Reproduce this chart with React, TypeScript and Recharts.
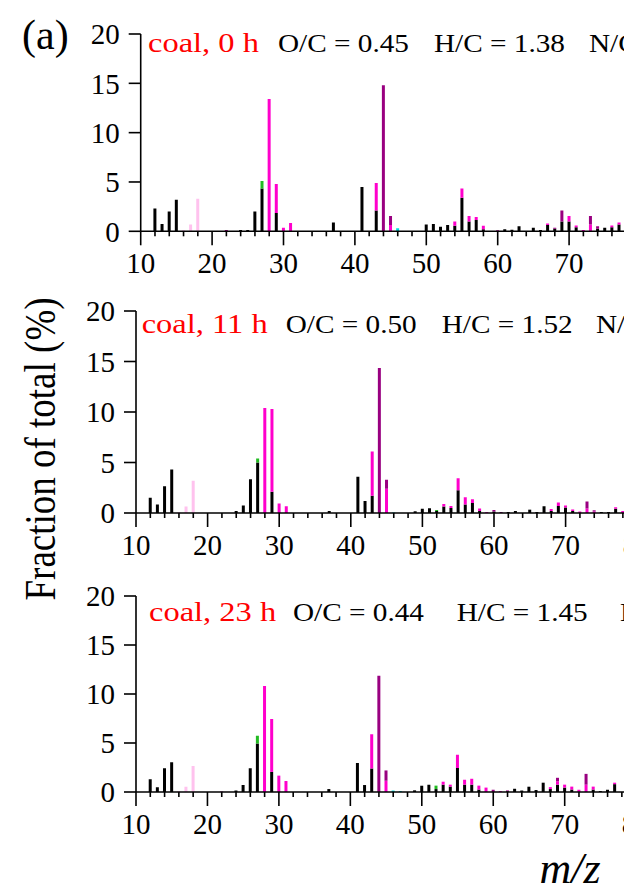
import { BarChart, Bar, XAxis, YAxis } from "recharts";

const serif = "'Liberation Serif', 'Times New Roman', serif";

// [m/z, fraction of total %] pairs
const black0 = [[12, 2.3], [13, 0.75], [14, 2.0], [15, 3.2], [24, 0.12], [25, 0.12], [26, 2.0], [27, 4.35], [29, 1.85], [37, 0.9], [41, 4.5], [43, 2.1], [50, 0.7], [51, 0.75], [52, 0.45], [53, 0.65], [54, 0.55], [55, 3.4], [56, 1.0], [57, 1.15], [58, 0.2], [61, 0.22], [62, 0.15], [63, 0.5], [65, 0.35], [66, 0.12], [67, 0.65], [68, 0.25], [69, 1.0], [70, 1.0], [71, 0.4], [74, 0.25], [75, 0.35], [76, 0.4], [77, 0.7]];
const green0 = [[27, 0.75]];
const magenta0 = [[28, 13.4], [29, 2.95], [30, 0.35], [31, 0.85], [43, 2.8], [45, 0.65], [54, 0.45], [55, 0.95], [56, 0.55], [57, 0.3], [58, 0.35], [67, 0.15], [70, 0.55], [71, 0.2], [72, 0.12], [73, 0.7], [76, 0.2], [77, 0.2]];
const purple0 = [[22, 0.12], [44, 14.8], [45, 0.9], [60, 0.1], [68, 0.1], [69, 1.1], [73, 0.85], [74, 0.25]];
const pink0 = [[16, 0.1], [17, 0.7], [18, 3.3]];
const cyan0 = [[46, 0.3]];

const black11 = [[12, 1.5], [13, 0.85], [14, 2.65], [15, 4.3], [24, 0.2], [25, 0.75], [26, 3.35], [27, 5.0], [29, 2.1], [37, 0.2], [41, 3.6], [42, 1.2], [43, 1.7], [49, 0.17], [50, 0.43], [51, 0.46], [52, 0.2], [53, 0.65], [54, 0.5], [55, 2.25], [56, 0.85], [57, 1.0], [58, 0.2], [60, 0.15], [62, 0.1], [63, 0.2], [65, 0.33], [66, 0.1], [67, 0.66], [68, 0.2], [69, 0.7], [70, 0.55], [71, 0.2], [75, 0.1], [76, 0.1], [77, 0.43]];
const green11 = [[27, 0.4], [52, 0.1]];
const magenta11 = [[28, 10.4], [29, 8.2], [30, 0.93], [31, 0.66], [43, 4.4], [45, 2.4], [53, 0.25], [54, 0.2], [55, 1.2], [56, 0.7], [57, 0.35], [58, 0.25], [59, 0.1], [68, 0.2], [69, 0.35], [70, 0.2], [71, 0.15], [72, 0.15], [73, 0.45], [74, 0.15], [77, 0.13], [78, 0.2]];
const purple11 = [[44, 14.35], [45, 0.9], [60, 0.15], [61, 0.1], [73, 0.7], [74, 0.12]];
const pink11 = [[16, 0.1], [17, 0.65], [18, 3.2]];
const cyan11 = [[46, 0.05]];

const black23 = [[12, 1.3], [13, 0.48], [14, 2.42], [15, 3.03], [24, 0.15], [25, 0.71], [26, 2.42], [27, 4.95], [29, 2.05], [37, 0.3], [41, 2.96], [42, 0.71], [43, 2.4], [49, 0.17], [50, 0.64], [51, 0.74], [52, 0.3], [53, 0.75], [54, 0.55], [55, 2.45], [56, 0.75], [57, 0.75], [58, 0.25], [62, 0.08], [63, 0.33], [64, 0.15], [65, 0.54], [66, 0.2], [67, 0.95], [68, 0.3], [69, 0.75], [70, 0.45], [71, 0.25], [74, 0.25], [75, 0.1], [76, 0.23], [77, 0.8]];
const green23 = [[27, 0.8], [52, 0.35]];
const magenta23 = [[28, 10.82], [29, 5.4], [30, 1.67], [31, 1.12], [43, 3.5], [45, 1.15], [53, 0.3], [54, 0.2], [55, 1.35], [56, 0.5], [57, 0.6], [58, 0.4], [59, 0.45], [61, 0.1], [68, 0.2], [69, 0.35], [70, 0.3], [71, 0.3], [72, 0.23], [73, 0.75], [74, 0.3], [77, 0.15]];
const purple23 = [[22, 0.05], [44, 11.87], [45, 1.05], [60, 0.23], [62, 0.08], [69, 0.35], [73, 1.1]];
const pink23 = [[16, 0.1], [17, 0.54], [18, 2.65]];
const cyan23 = [[46, 0.15], [47, 0.1]];

const yTicks = [0, 5, 10, 15, 20];
const xTicks = [10, 12, 14, 16, 18, 20, 22, 24, 26, 28, 30, 32, 34, 36, 38, 40, 42, 44, 46, 48, 50, 52, 54, 56, 58, 60, 62, 64, 66, 68, 70, 72, 74, 76, 78, 80, 82, 84, 86, 88, 90];

const samples = ["coal, 0 h", "coal, 11 h", "coal, 23 h"];
const ocRatios = ["0.45", "0.50", "0.44"];
const hcRatios = ["1.38", "1.52", "1.45"];

const seriesKeys = ["black", "green", "magenta", "purple", "pink", "cyan"];
const seriesColors = ["#000000", "#22bb22", "#ff00cc", "#990080", "#ffc2ee", "#00e0e0"];

function buildRows(series: number[][][]) {
  const all = new Set<number>();
  series.forEach((s) => s.forEach(([m]) => all.add(m)));
  return [...all].sort((a, b) => a - b).map((m) => {
    const row: any = { mz: m };
    series.forEach((s, i) => {
      const hit = s.find(([k]) => k === m);
      row[seriesKeys[i]] = hit ? hit[1] : 0;
    });
    return row;
  });
}

const panelData = [
  buildRows([black0, green0, magenta0, purple0, pink0, cyan0]),
  buildRows([black11, green11, magenta11, purple11, pink11, cyan11]),
  buildRows([black23, green23, magenta23, purple23, pink23, cyan23]),
];

// plot box per panel: left edge (m/z 10), px per unit, y of 20 and of 0
const layout = [
  { left: 140.7, ppu: 7.14, top: 34, bottom: 231.3, text: 52.3, xs: [148, 278, 434, 589] },
  { left: 136, ppu: 7.16, top: 310.7, bottom: 512.7, text: 332.5, xs: [141.7, 285.7, 441.7, 596] },
  { left: 136, ppu: 7.145, top: 596, bottom: 792, text: 621, xs: [149, 293, 456.7, 620] },
];

function MzTick({ x, y, payload }: any) {
  const major = payload.value % 10 === 0;
  return (
    <g>
      <line x1={x} x2={x} y1={y} y2={y + (major ? 14 : 5)} stroke="#000" strokeWidth={1.6} />
      {major && (
        <text x={x} y={y + 42} textAnchor="middle" fontSize={29} fontFamily={serif} fill="#000">
          {payload.value}
        </text>
      )}
    </g>
  );
}

function Panel({ idx }: { idx: number }) {
  const p = layout[idx];
  const padTop = 30;
  const plotH = p.bottom - p.top;
  const plotW = 80 * p.ppu;
  const yAxisW = 60;
  return (
    <div style={{ position: "absolute", left: 0, top: p.top - padTop }}>
      <BarChart
        width={p.left + plotW + 10}
        height={padTop + plotH + 60}
        data={panelData[idx]}
        margin={{ top: padTop, right: 10, bottom: 0, left: p.left - yAxisW }}
        barCategoryGap={0}
      >
        <XAxis
          dataKey="mz"
          type="number"
          domain={[10, 90]}
          ticks={xTicks}
          interval={0}
          allowDataOverflow
          height={60}
          tickSize={0}
          tickMargin={0}
          tickLine={false}
          axisLine={{ stroke: "#000", strokeWidth: 1.6 }}
          tick={<MzTick />}
        />
        <YAxis
          type="number"
          domain={[0, 20]}
          ticks={yTicks}
          width={yAxisW}
          tickSize={12}
          tickMargin={9}
          axisLine={{ stroke: "#000", strokeWidth: 1.6 }}
          tickLine={{ stroke: "#000", strokeWidth: 1.6 }}
          tick={{ fontSize: 29, fill: "#000", fontFamily: serif }}
        />
        {seriesKeys.map((k, i) => (
          <Bar key={k} dataKey={k} stackId="a" fill={seriesColors[i]} barSize={3} isAnimationActive={false} />
        ))}
      </BarChart>
    </div>
  );
}

export default function App() {
  return (
    <div
      style={{
        position: "absolute",
        left: 0,
        top: 0,
        width: 624,
        height: 893,
        overflow: "hidden",
        background: "#fff",
        fontFamily: serif,
      }}
    >
      {[0, 1, 2].map((i) => (
        <Panel key={i} idx={i} />
      ))}
      <svg width={624} height={893} style={{ position: "absolute", left: 0, top: 0, pointerEvents: "none" }}>
        <text x={22} y={49} fontSize={42} fontFamily={serif} fill="#000">(a)</text>
        <text
          transform="translate(55, 449) scale(1.18, 1) rotate(-90)"
          textAnchor="middle"
          fontSize={37}
          fontFamily={serif}
          fill="#000"
        >
          Fraction of total (%)
        </text>
        <text x={570} y={883} textAnchor="middle" fontSize={44} fontStyle="italic" fontFamily={serif} fill="#000">
          m/z
        </text>
        {layout.map((p, i) => (
          <g key={i} fontFamily={serif}>
            <text transform={`translate(${p.xs[0]}, ${p.text}) scale(1.16, 1)`} fontSize={28} fill="#ff0000">
              {samples[i]}
            </text>
            <text transform={`translate(${p.xs[1]}, ${p.text}) scale(1.17, 1)`} fontSize={25} fill="#000">
              {`O/C = ${ocRatios[i]}`}
            </text>
            <text transform={`translate(${p.xs[2]}, ${p.text}) scale(1.17, 1)`} fontSize={25} fill="#000">
              {`H/C = ${hcRatios[i]}`}
            </text>
            <text transform={`translate(${p.xs[3]}, ${p.text}) scale(1.17, 1)`} fontSize={25} fill="#000">
              N/C
            </text>
          </g>
        ))}
      </svg>
    </div>
  );
}
